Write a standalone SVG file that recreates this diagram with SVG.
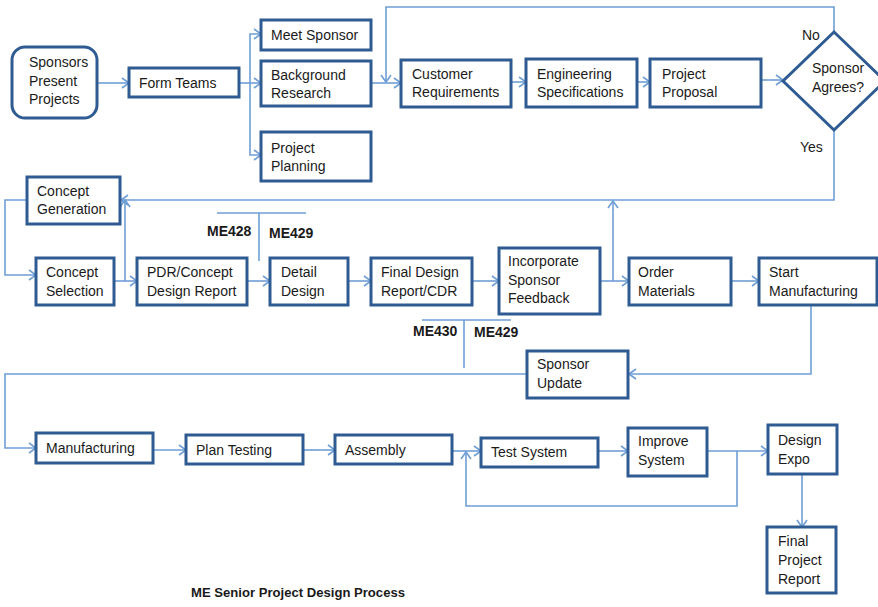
<svg xmlns="http://www.w3.org/2000/svg" width="878" height="607" viewBox="0 0 878 607">
<style>
.box{fill:#fff;stroke:#2f5b93;stroke-width:3}
.ln{fill:none;stroke:#6f9ed6;stroke-width:1.6}
.t{font-family:"Liberation Sans",Arial,sans-serif;font-size:14px;fill:#1a1a1a}
.b{font-family:"Liberation Sans",Arial,sans-serif;font-size:14px;font-weight:bold;fill:#1a1a1a}
</style>
<defs>
<marker id="ah" markerUnits="userSpaceOnUse" markerWidth="12" markerHeight="12" refX="9" refY="6" orient="auto">
<path d="M2,1 L9,6 L2,11" fill="none" stroke="#6f9ed6" stroke-width="1.6"/>
</marker>
</defs>
<rect width="878" height="607" fill="#fff"/>
<g id="connectors">
<path class="ln" d="M97,83 H129" marker-end="url(#ah)"/>
<path class="ln" d="M239,83 H261" marker-end="url(#ah)"/>
<path class="ln" d="M250,83 V34 H261" marker-end="url(#ah)"/>
<path class="ln" d="M250,83 V155 H261" marker-end="url(#ah)"/>
<path class="ln" d="M371,83 H401" marker-end="url(#ah)"/>
<path class="ln" d="M834,32 V7 H386 V82" marker-end="url(#ah)"/>
<path class="ln" d="M511,82 H526" marker-end="url(#ah)"/>
<path class="ln" d="M637,82 H650" marker-end="url(#ah)"/>
<path class="ln" d="M761,80 H783" marker-end="url(#ah)"/>
<path class="ln" d="M834,130 V200 H121" marker-end="url(#ah)"/>
<path class="ln" d="M27,200 H5 V275 H36" marker-end="url(#ah)"/>
<path class="ln" d="M114,281 H137" marker-end="url(#ah)"/>
<path class="ln" d="M125,281 V200" marker-end="url(#ah)"/>
<path class="ln" d="M247,281 H270" marker-end="url(#ah)"/>
<path class="ln" d="M348,281 H371" marker-end="url(#ah)"/>
<path class="ln" d="M472,281 H499" marker-end="url(#ah)"/>
<path class="ln" d="M600,281 H629" marker-end="url(#ah)"/>
<path class="ln" d="M613,281 V201" marker-end="url(#ah)"/>
<path class="ln" d="M731,281 H759" marker-end="url(#ah)"/>
<path class="ln" d="M217,213 H306 M259,213 V261"/>
<path class="ln" d="M422,320 H511 M464,320 V368"/>
<path class="ln" d="M811,305 V374 H629" marker-end="url(#ah)"/>
<path class="ln" d="M527,374 H5 V448 H36" marker-end="url(#ah)"/>
<path class="ln" d="M153,450 H186" marker-end="url(#ah)"/>
<path class="ln" d="M303,450 H335" marker-end="url(#ah)"/>
<path class="ln" d="M452,451 H481" marker-end="url(#ah)"/>
<path class="ln" d="M598,451 H628" marker-end="url(#ah)"/>
<path class="ln" d="M707,451 H768" marker-end="url(#ah)"/>
<path class="ln" d="M737,451 V506 H466 V452" marker-end="url(#ah)"/>
<path class="ln" d="M802,474 V527" marker-end="url(#ah)"/>
</g>
<g id="sponsors-present">
<rect class="box" x="12" y="47" width="85" height="71" rx="13"/>
<text class="t" x="29" y="67">Sponsors</text><text class="t" x="29" y="85.5">Present</text><text class="t" x="29" y="104">Projects</text>
</g>
<g id="form-teams"><rect class="box" x="129" y="68" width="110" height="29"/><text class="t" x="139" y="88">Form Teams</text></g>
<g id="meet-sponsor"><rect class="box" x="261" y="20" width="110" height="30"/><text class="t" x="271" y="40">Meet Sponsor</text></g>
<g id="background-research"><rect class="box" x="261" y="61" width="110" height="45"/><text class="t" x="271" y="80">Background</text><text class="t" x="271" y="98">Research</text></g>
<g id="project-planning"><rect class="box" x="261" y="132" width="110" height="49"/><text class="t" x="271" y="153">Project</text><text class="t" x="271" y="171">Planning</text></g>
<g id="customer-requirements"><rect class="box" x="401" y="60" width="110" height="47"/><text class="t" x="412" y="79">Customer</text><text class="t" x="412" y="97">Requirements</text></g>
<g id="engineering-specifications"><rect class="box" x="526" y="59" width="111" height="48"/><text class="t" x="537" y="79">Engineering</text><text class="t" x="537" y="97">Specifications</text></g>
<g id="project-proposal"><rect class="box" x="650" y="59" width="111" height="48"/><text class="t" x="662" y="79">Project</text><text class="t" x="662" y="97">Proposal</text></g>
<g id="sponsor-agrees">
<polygon class="box" points="834,32 885,81 834,130 783,81"/>
<text class="t" x="812" y="73">Sponsor</text><text class="t" x="812" y="92">Agrees?</text>
</g>
<text class="t" x="802" y="40">No</text>
<text class="t" x="800" y="152">Yes</text>
<g id="concept-generation"><rect class="box" x="27" y="177" width="93" height="47"/><text class="t" x="37" y="196">Concept</text><text class="t" x="37" y="214">Generation</text></g>
<g id="concept-selection"><rect class="box" x="36" y="258" width="78" height="47"/><text class="t" x="46" y="277">Concept</text><text class="t" x="46" y="295.5">Selection</text></g>
<g id="pdr"><rect class="box" x="137" y="258" width="110" height="47"/><text class="t" x="147" y="277">PDR/Concept</text><text class="t" x="147" y="295.5">Design Report</text></g>
<g id="detail-design"><rect class="box" x="270" y="258" width="78" height="47"/><text class="t" x="281" y="277">Detail</text><text class="t" x="281" y="295.5">Design</text></g>
<g id="final-design-report"><rect class="box" x="371" y="258" width="101" height="47"/><text class="t" x="381" y="277">Final Design</text><text class="t" x="381" y="295.5">Report/CDR</text></g>
<g id="incorporate-feedback"><rect class="box" x="499" y="248" width="101" height="66"/><text class="t" x="508" y="266">Incorporate</text><text class="t" x="508" y="285">Sponsor</text><text class="t" x="508" y="303">Feedback</text></g>
<g id="order-materials"><rect class="box" x="629" y="258" width="102" height="47"/><text class="t" x="638" y="277">Order</text><text class="t" x="638" y="295.5">Materials</text></g>
<g id="start-manufacturing"><rect class="box" x="759" y="258" width="118" height="47"/><text class="t" x="769" y="277">Start</text><text class="t" x="769" y="295.5">Manufacturing</text></g>
<text class="b" x="207" y="236">ME428</text>
<text class="b" x="269" y="238">ME429</text>
<text class="b" x="413" y="336">ME430</text>
<text class="b" x="474" y="337">ME429</text>
<g id="sponsor-update"><rect class="box" x="527" y="351" width="101" height="47"/><text class="t" x="537" y="369">Sponsor</text><text class="t" x="537" y="387.5">Update</text></g>
<g id="manufacturing"><rect class="box" x="36" y="433" width="117" height="30"/><text class="t" x="46" y="453">Manufacturing</text></g>
<g id="plan-testing"><rect class="box" x="186" y="435" width="117" height="29"/><text class="t" x="196" y="454.5">Plan Testing</text></g>
<g id="assembly"><rect class="box" x="335" y="435" width="117" height="29"/><text class="t" x="345" y="454.5">Assembly</text></g>
<g id="test-system"><rect class="box" x="481" y="438" width="117" height="29"/><text class="t" x="491" y="457">Test System</text></g>
<g id="improve-system"><rect class="box" x="628" y="428" width="79" height="48"/><text class="t" x="638" y="446">Improve</text><text class="t" x="638" y="465">System</text></g>
<g id="design-expo"><rect class="box" x="768" y="425" width="69" height="49"/><text class="t" x="778" y="445">Design</text><text class="t" x="778" y="464">Expo</text></g>
<g id="final-project-report"><rect class="box" x="767" y="527" width="69" height="66"/><text class="t" x="778" y="546">Final</text><text class="t" x="778" y="565">Project</text><text class="t" x="778" y="584">Report</text></g>
<text class="b" x="191" y="597" style="font-size:12.6px" textLength="214" lengthAdjust="spacingAndGlyphs">ME Senior Project Design Process</text>
</svg>
